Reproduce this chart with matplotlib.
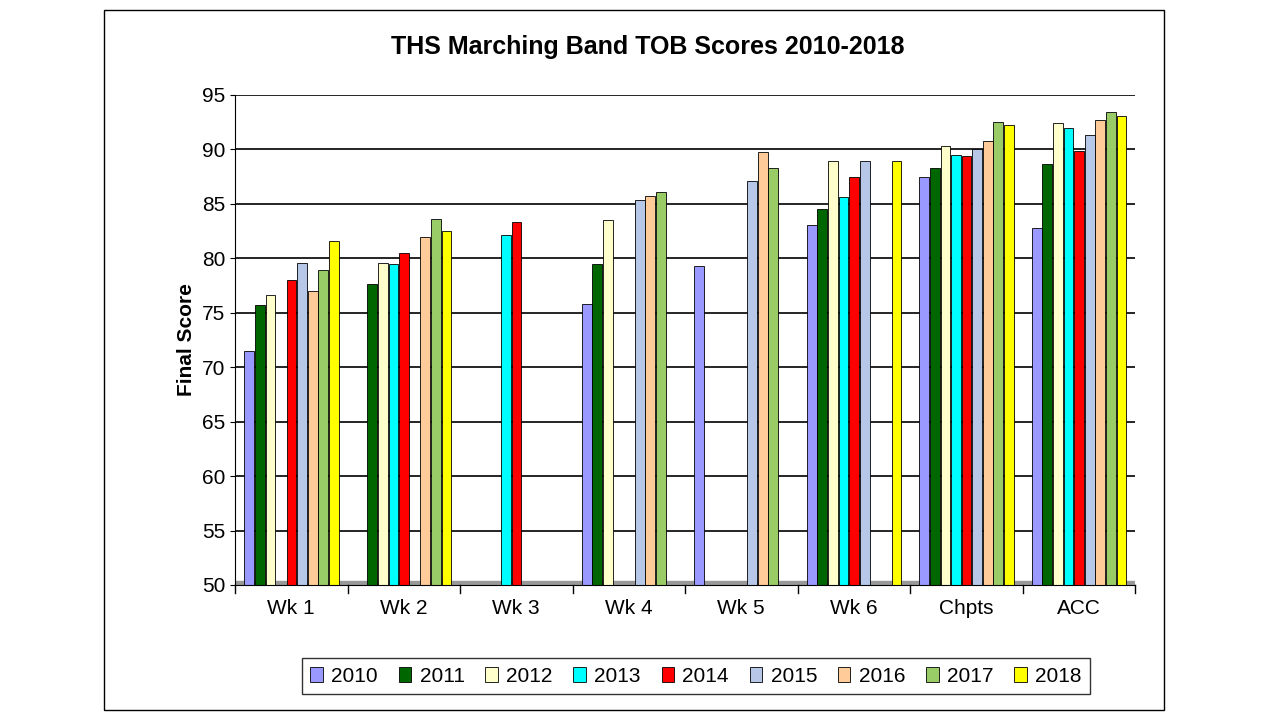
import matplotlib
matplotlib.use("Agg")
import matplotlib.pyplot as plt
import numpy as np
from matplotlib.patches import Rectangle

plt.rcParams["font.family"] = "Liberation Sans"

categories = ["Wk 1", "Wk 2", "Wk 3", "Wk 4", "Wk 5", "Wk 6", "Chpts", "ACC"]
years = ["2010", "2011", "2012", "2013", "2014", "2015", "2016", "2017", "2018"]
N = None
s2010 = [71.5, N, N, 75.8, 79.3, 83.1, 87.5, 82.8]
s2011 = [75.7, 77.6, N, 79.5, N, 84.5, 88.3, 88.7]
s2012 = [76.6, 79.6, N, 83.5, N, 88.9, 90.3, 92.4]
s2013 = [N, 79.5, 82.1, N, N, 85.6, 89.5, 92.0]
s2014 = [78.0, 80.5, 83.3, N, N, 87.5, 89.4, 89.9]
s2015 = [79.6, N, N, 85.4, 87.1, 88.9, 90.0, 91.3]
s2016 = [77.0, 82.0, N, 85.7, 89.8, N, 90.8, 92.7]
s2017 = [78.9, 83.6, N, 86.1, 88.3, N, 92.5, 93.4]
s2018 = [81.6, 82.5, N, N, N, 88.9, 92.2, 93.1]
series = [s2010, s2011, s2012, s2013, s2014, s2015, s2016, s2017, s2018]
colors = ["#9999FF", "#006600", "#FFFFCC", "#00FFFF", "#FF0000",
          "#B7C7E8", "#FFCC99", "#99CC66", "#FFFF00"]

fig = plt.figure(figsize=(12.8, 7.2), dpi=100)
fig.patches.append(Rectangle((104/1280, 10/720), 1060/1280, 700/720, transform=fig.transFigure,
                             fill=False, edgecolor="black", lw=1))
ax = fig.add_axes([235/1280, 135/720, 900/1280, 490/720])
ax.set_ylim(50, 95)
ax.set_xlim(0, len(categories))
ax.set_yticks(range(50, 96, 5))
for y in range(55, 96, 5):
    ax.axhline(y, color="black", lw=1.2, zorder=0)
ax.axhspan(50, 50.4, color="#999999", zorder=0)
w = 0.094
for i, (vals, c) in enumerate(zip(series, colors)):
    xs, hs = [], []
    for j, v in enumerate(vals):
        if v is not None:
            xs.append(j + 0.08 + i * w + w / 2)
            hs.append(v - 50)
    ax.bar(xs, hs, width=w * 0.92, bottom=50, color=c, edgecolor="black", lw=0.6, label=years[i], zorder=2)
ax.set_xticks(np.arange(len(categories)) + 0.5)
ax.set_xticklabels(categories, fontsize=15)
ax.tick_params(axis="y", labelsize=15)
ax.tick_params(axis="x", length=0, pad=10)
for x in range(len(categories) + 1):
    ax.plot([x, x], [49.3, 50], color="black", lw=1, clip_on=False)
ax.set_ylabel("Final Score", fontsize=15, fontweight="bold")
for s in ["top", "right"]:
    ax.spines[s].set_visible(False)
fig.text(0.506, 0.925, "THS Marching Band TOB Scores 2010-2018", ha="center", fontsize=18, fontweight="bold")
fig.legend(loc="center", bbox_to_anchor=(696/1280, 1 - 676/720), ncol=9, fontsize=15,
           frameon=True, edgecolor="black", fancybox=False, handlelength=0.6, handletextpad=0.4,
           columnspacing=1.0, borderpad=0.4)
fig.savefig("out.png", dpi=100)
